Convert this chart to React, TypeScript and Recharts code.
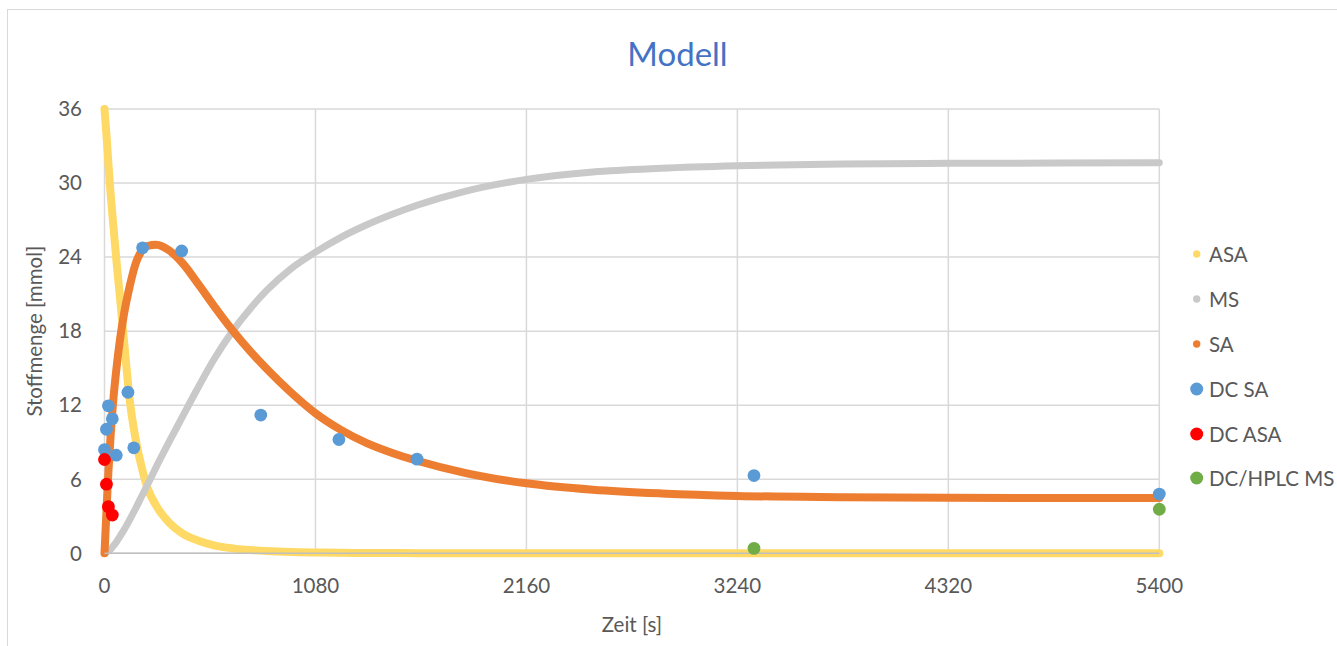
import React from 'react';
import { ComposedChart, Line, Scatter, XAxis, YAxis, CartesianGrid, Legend } from 'recharts';

const FONT = 'Lato, "Noto Sans", sans-serif';
const TEXT = '#595959';

// model curves
const modelTime = [
  0, 10, 20, 30, 45, 60, 80, 100, 130, 160, 190, 220, 265, 330, 400, 485, 560, 656, 750, 830,
  950, 1080, 1210, 1340, 1470, 1600, 1850, 2160, 2500, 2850, 3240, 3780, 4320, 4860, 5400,
];
const asaModel = [
  36, 33.9, 31.6, 29.4, 26.6, 23.9, 20.6, 17.2, 12.3, 9.2, 7.0, 5.3, 3.85, 2.5, 1.6, 1.0, 0.65, 0.4, 0.26, 0.18,
  0.1, 0.06, 0.04, 0.03, 0.02, 0.01, 0, 0, 0, 0, 0, 0, 0, 0, 0,
];
const msModel = [
  0, 0.1, 0.2, 0.3, 0.6, 0.9, 1.4, 1.9, 2.75, 3.65, 4.6, 5.55, 7.0, 9.0, 11.1, 13.6, 15.7, 18.0, 19.9, 21.3,
  23.0, 24.4, 25.6, 26.6, 27.45, 28.2, 29.35, 30.3, 30.9, 31.2, 31.4, 31.55, 31.6, 31.62, 31.65,
];
const saModel = [
  0, 3.4, 6.6, 9.2, 12.4, 14.8, 17.4, 19.4, 21.7, 23.5, 24.5, 24.9, 25.0, 24.55, 23.5, 21.7, 20.05, 18.05, 16.3, 14.95,
  13.1, 11.35, 10.0, 8.95, 8.15, 7.5, 6.5, 5.67, 5.15, 4.85, 4.65, 4.55, 4.5, 4.48, 4.48,
];

// measured points
const dcSaTime = [0, 10, 20, 40, 60, 120, 150, 195, 395, 800, 1200, 1600, 3325, 5400];
const dcSaValue = [8.4, 10.05, 11.95, 10.9, 7.95, 13.05, 8.55, 24.75, 24.5, 11.2, 9.22, 7.63, 6.3, 4.8];
const dcAsaTime = [0, 10, 20, 40];
const dcAsaValue = [7.6, 5.6, 3.78, 3.1];
const hplcMsTime = [3325, 5400];
const hplcMsValue = [0.4, 3.57];

const xTicks = [0, 1080, 2160, 3240, 4320, 5400];
const yTicks = [0, 6, 12, 18, 24, 30, 36];
const legendOrder = ['ASA', 'MS', 'SA', 'DC SA', 'DC ASA', 'DC/HPLC MS'];

const modelData = modelTime.map((t, i) => ({ t, ASA: asaModel[i], MS: msModel[i], SA: saModel[i] }));
const toPoints = (ts: number[], vs: number[]) => ts.map((t, i) => ({ t, v: vs[i] }));

const dot = (p: any) => <circle cx={p.cx} cy={p.cy} r={6.4} fill={p.fill} />;

const renderLegend = (props: any) => {
  const items = [...(props.payload || [])].sort(
    (a: any, b: any) => legendOrder.indexOf(a.value) - legendOrder.indexOf(b.value),
  );
  return (
    <div style={{ display: 'flex', flexDirection: 'column' }}>
      {items.map((e: any) => (
        <div key={e.value} style={{ height: 44.8, display: 'flex', alignItems: 'center' }}>
          <svg width={26} height={14}>
            <circle cx={13.7} cy={7} r={e.type === 'line' ? 3.7 : 6.5} fill={e.color} />
          </svg>
          <span style={{ fontFamily: FONT, fontSize: 20.5, color: TEXT, whiteSpace: 'nowrap' }}>{e.value}</span>
        </div>
      ))}
    </div>
  );
};

const xLabel = (p: any) => {
  const vb = p.viewBox;
  return (
    <text x={vb.x + vb.width / 2} y={vb.y + 79} textAnchor="middle" fill={TEXT} fontSize={20.5} fontFamily={FONT}>
      Zeit [s]
    </text>
  );
};

const yLabel = (p: any) => {
  const vb = p.viewBox;
  const cx = vb.x + 34;
  const cy = vb.y + vb.height / 2;
  return (
    <text
      x={cx}
      y={cy}
      transform={`rotate(-90, ${cx}, ${cy})`}
      textAnchor="middle"
      dominantBaseline="central"
      fill={TEXT}
      fontSize={20.5}
      fontFamily={FONT}
    >
      Stoffmenge [mmol]
    </text>
  );
};

export default function App() {
  const tick = { fill: TEXT, fontSize: 20.5, fontFamily: FONT };
  return (
    <div
      style={{
        position: 'fixed', left: 0, top: 0, width: 1337, height: 646,
        background: '#fff', overflow: 'hidden', fontFamily: FONT,
      }}
    >
      <div
        style={{
          position: 'absolute', left: 7, top: 9, width: 1345, height: 655,
          border: '1.5px solid #D9D9D9', boxSizing: 'border-box',
        }}
      />
      <div
        style={{
          position: 'absolute', left: 8, width: 1339, top: 33, textAlign: 'center',
          fontSize: 33, lineHeight: '40px', color: '#4472C4',
        }}
      >
        Modell
      </div>
      <div style={{ position: 'absolute', left: 0, top: 0 }}>
        <ComposedChart
          width={1337}
          height={646}
          data={modelData}
          margin={{ top: 109, right: 177.7, bottom: 0, left: 0 }}
        >
          <CartesianGrid stroke="#D9D9D9" strokeWidth={1.5} />
          <XAxis
            type="number"
            dataKey="t"
            domain={[0, 5400]}
            ticks={xTicks}
            height={92.7}
            tick={tick}
            tickLine={false}
            tickSize={0}
            tickMargin={25}
            axisLine={{ stroke: '#BFBFBF', strokeWidth: 1.5 }}
            label={{ content: xLabel }}
          />
          <YAxis
            type="number"
            domain={[0, 36]}
            ticks={yTicks}
            width={104.5}
            tick={tick}
            tickLine={false}
            tickSize={0}
            tickMargin={22.5}
            axisLine={false}
            label={{ content: yLabel }}
          />
          <Legend
            layout="vertical"
            align="center"
            verticalAlign="middle"
            content={renderLegend}
            wrapperStyle={{ left: 1183, top: 232, width: 154 }}
          />
          <Line name="ASA" dataKey="ASA" type="monotone" stroke="#FFD966" strokeWidth={8}
            strokeLinecap="round" strokeLinejoin="round" dot={false} activeDot={false} isAnimationActive={false} />
          <Line name="MS" dataKey="MS" type="monotone" stroke="#C9C9C9" strokeWidth={7}
            strokeLinecap="round" strokeLinejoin="round" dot={false} activeDot={false} isAnimationActive={false} />
          <Line name="SA" dataKey="SA" type="monotone" stroke="#ED7D31" strokeWidth={8}
            strokeLinecap="round" strokeLinejoin="round" dot={false} activeDot={false} isAnimationActive={false} />
          <Scatter name="DC SA" data={toPoints(dcSaTime, dcSaValue)} dataKey="v" fill="#5B9BD5"
            shape={dot} isAnimationActive={false} />
          <Scatter name="DC ASA" data={toPoints(dcAsaTime, dcAsaValue)} dataKey="v" fill="#FF0000"
            shape={dot} isAnimationActive={false} />
          <Scatter name="DC/HPLC MS" data={toPoints(hplcMsTime, hplcMsValue)} dataKey="v" fill="#70AD47"
            shape={dot} isAnimationActive={false} />
        </ComposedChart>
      </div>
    </div>
  );
}
